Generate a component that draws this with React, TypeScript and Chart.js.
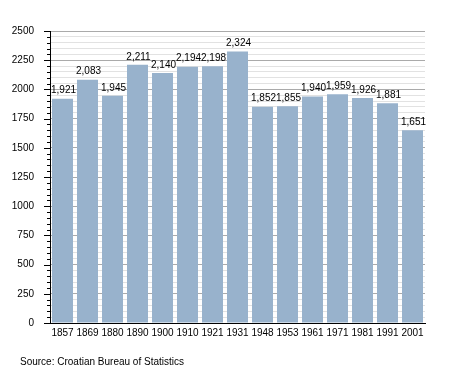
import React, { useEffect, useRef } from "react";
import { Chart, registerables } from "chart.js";

Chart.register(...registerables);

const years = ["1857", "1869", "1880", "1890", "1900", "1910", "1921", "1931", "1948", "1953", "1961", "1971", "1981", "1991", "2001"];
const population = [1921, 2083, 1945, 2211, 2140, 2194, 2198, 2324, 1852, 1855, 1940, 1959, 1926, 1881, 1651];
const yMax = 2500;
const minorStep = 50;
const majorStep = 250;
const sourceText = "Source: Croatian Bureau of Statistics";

const FONT = "'Liberation Sans', Arial, sans-serif";

const fmt = (v: number) => v.toLocaleString("en-US");

const extrasPlugin = {
  id: "extras",
  afterDatasetsDraw(chart: any) {
    const ctx = chart.ctx;
    const meta = chart.getDatasetMeta(0);
    ctx.save();
    ctx.font = `10px ${FONT}`;
    ctx.fillStyle = "#000";
    ctx.textAlign = "center";
    ctx.textBaseline = "bottom";
    meta.data.forEach((bar: any, i: number) => {
      ctx.fillText(fmt(population[i]), bar.x + 1, bar.y - 3);
    });
    ctx.restore();
  },
  afterDraw(chart: any) {
    const ctx = chart.ctx;
    const y = chart.scales.y;
    const left = chart.chartArea.left;
    ctx.save();
    ctx.strokeStyle = "#000";
    ctx.lineWidth = 1;
    for (let v = 0; v <= yMax; v += minorStep) {
      const py = Math.round(y.getPixelForValue(v)) + 0.5;
      const len = v % majorStep === 0 ? 6 : 3;
      ctx.beginPath();
      ctx.moveTo(left - len, py);
      ctx.lineTo(left, py);
      ctx.stroke();
    }
    ctx.font = `10px ${FONT}`;
    ctx.fillStyle = "#000";
    ctx.textAlign = "left";
    ctx.textBaseline = "alphabetic";
    ctx.fillText(sourceText, 20, 365);
    ctx.restore();
  },
};

export default function App() {
  const ref = useRef<HTMLCanvasElement | null>(null);
  useEffect(() => {
    if (!ref.current) return;
    const chart = new Chart(ref.current, {
      type: "bar",
      data: {
        labels: years,
        datasets: [
          {
            data: population,
            backgroundColor: "#98b2cc",
            borderWidth: 0,
            categoryPercentage: 1,
            barPercentage: 0.84,
          },
        ],
      },
      options: {
        animation: false,
        responsive: false,
        maintainAspectRatio: false,
        layout: { padding: { top: 31, right: 30, left: 0, bottom: 0 } },
        plugins: { legend: { display: false }, tooltip: { enabled: false } },
        scales: {
          x: {
            grid: { display: false, drawTicks: false },
            border: { display: true, color: "#000", width: 1 },
            ticks: { color: "#000", font: { family: FONT, size: 10 }, padding: 4, autoSkip: false, maxRotation: 0 },
            afterFit: (s: any) => { s.height = 50; },
          },
          y: {
            min: 0,
            max: yMax,
            grid: {
              drawTicks: false,
              color: (c: any) => (c.tick && c.tick.value % majorStep === 0 ? "#aaaaaa" : "#e2e2e2"),
            },
            border: { display: true, color: "#000", width: 1 },
            ticks: {
              stepSize: minorStep,
              autoSkip: false,
              padding: 16,
              color: "#000",
              font: { family: FONT, size: 10 },
              callback: (v: any) => (Number(v) % majorStep === 0 ? String(v) : ""),
            },
            afterFit: (s: any) => { s.width = 50; },
          },
        },
      },
      plugins: [extrasPlugin],
    });
    return () => chart.destroy();
  }, []);
  return (
    <div style={{ position: "absolute", left: 0, top: 0, width: 455, height: 373, background: "#fff" }}>
      <canvas ref={ref} width={455} height={373} style={{ display: "block" }} />
    </div>
  );
}
